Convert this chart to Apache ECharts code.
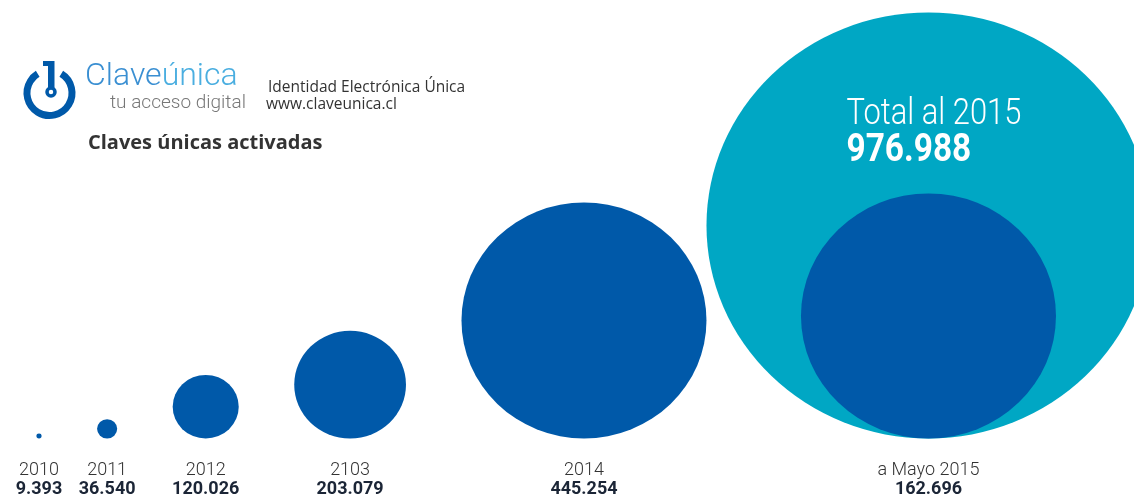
<!DOCTYPE html>
<html>
<head>
<meta charset="utf-8">
<script src="https://cdn.jsdelivr.net/npm/echarts@6/dist/echarts.min.js"></script>
<style>
  html, body { margin: 0; padding: 0; background: #fff; }
  #chart { width: 1134px; height: 497px; }
</style>
</head>
<body>
<div id="chart"></div>
<script>
// datos
const years = ["2010", "2011", "2012", "2103", "2014"];
const activadas = [9393, 36540, 120026, 203079, 445254];
const mayoLabel = "a Mayo 2015";
const mayoValue = 162696;
const totalLabel = "Total al 2015";
const totalValue = 976988;

// escala de las burbujas (diametro por clave)
const W_PER = 245 / 445254;
const H_PER = 236 / 445254;
const BASE = 438.5;
const START_X = 39;
const GAP = 55.5;
const TOTAL_SIZE = [444, 426];
const MAYO_SIZE = [255, 245];

const DARK = "#0059a9";
const TEAL = "#00a7c4";

function fmt(v) {
  return String(v).replace(/\B(?=(\d{3})+(?!\d))/g, ".");
}

// posiciones de las burbujas, una al lado de la otra
let cx = START_X;
let prevW = 0;
const bubbles = activadas.map((v, i) => {
  const w = v * W_PER;
  const h = v * H_PER;
  if (i > 0) cx += prevW / 2 + GAP + w / 2;
  prevW = w;
  return { name: years[i], value: [cx, BASE - h / 2, v], symbolSize: [w, h] };
});
const cx2015 = cx + prevW / 2 + TOTAL_SIZE[0] / 2;

const labelRich = {
  y: { fontFamily: "Roboto", fontWeight: 300, fontSize: 18, color: "#333", lineHeight: 19 },
  v: { fontFamily: "Roboto", fontWeight: "bold", fontSize: 18, color: "#1b2536", lineHeight: 19 },
};

const chart = echarts.init(document.getElementById("chart"));

const headerGraphics = [
  // logo
  {
    type: "arc",
    shape: { cx: 49.5, cy: 93, r: 22.5, startAngle: -1.02, endAngle: 4.16 },
    style: { stroke: DARK, lineWidth: 7, fill: null, lineCap: "butt" },
  },
  { type: "rect", shape: { x: 48, y: 61, width: 6.5, height: 27 }, style: { fill: DARK } },
  { type: "rect", shape: { x: 43, y: 61, width: 8, height: 5 }, style: { fill: DARK } },
  {
    type: "circle",
    shape: { cx: 51, cy: 92, r: 4 },
    style: { fill: "#fff", stroke: DARK, lineWidth: 3.5 },
  },
  {
    type: "text",
    x: 85,
    y: 61,
    style: {
      text: "{a|Clave}{b|única}",
      rich: {
        a: { fontFamily: "Roboto", fontWeight: 300, fontSize: 32, fill: "#3a8fd2" },
        b: { fontFamily: "Roboto", fontWeight: 300, fontSize: 32, fill: "#4aaee0" },
      },
    },
  },
  {
    type: "text",
    x: 110,
    y: 94,
    style: { text: "tu acceso digital", fontFamily: "Roboto", fontWeight: 300, fontSize: 19, fill: "#777" },
  },
  {
    type: "text",
    x: 268,
    y: 80,
    style: { text: "Identidad Electrónica Única", fontFamily: "Open Sans", fontSize: 15.5, fill: "#333" },
  },
  {
    type: "text",
    x: 266,
    y: 97,
    style: { text: "www.claveunica.cl", fontFamily: "Open Sans", fontSize: 15.5, fill: "#333" },
  },
  {
    type: "text",
    x: 88,
    y: 133,
    style: {
      text: "Claves únicas activadas",
      fontFamily: "Open Sans",
      fontWeight: "bold",
      fontSize: 20,
      fill: "#333",
    },
  },
];

const option = {
  animation: false,
  grid: { left: 0, right: 0, top: 0, bottom: 0 },
  xAxis: { type: "value", min: 0, max: 1134, show: false },
  yAxis: { type: "value", min: 0, max: 497, inverse: true, show: false },
  graphic: headerGraphics,
  series: [
    {
      type: "scatter",
      silent: true,
      z: 1,
      itemStyle: { color: TEAL, opacity: 1 },
      data: [
        {
          name: totalLabel,
          value: [cx2015, BASE - TOTAL_SIZE[1] / 2, totalValue],
          symbolSize: TOTAL_SIZE,
        },
      ],
    },
    {
      type: "scatter",
      silent: true,
      z: 2,
      itemStyle: { color: DARK, opacity: 1 },
      data: bubbles.concat([
        {
          name: mayoLabel,
          value: [cx2015, BASE - MAYO_SIZE[1] / 2, mayoValue],
          symbolSize: MAYO_SIZE,
        },
      ]),
      label: {
        show: true,
        position: "bottom",
        distance: 22,
        formatter: (p) => "{y|" + p.name + "}\n{v|" + fmt(p.value[2]) + "}",
        rich: labelRich,
      },
    },
  ],
};

chart.setOption(option);

// texto del total dentro del circulo grande (letra angosta)
const totalPx = chart.convertToPixel({ seriesIndex: 0 }, [cx2015, BASE - TOTAL_SIZE[1] / 2]);
const tx = totalPx[0] - TOTAL_SIZE[0] / 2 + 140;
const ty = totalPx[1] - TOTAL_SIZE[1] / 2;
chart.setOption({
  graphic: headerGraphics.concat([
    {
      type: "text",
      x: tx,
      y: ty + 84,
      scaleX: 0.835,
      z: 10,
      style: { text: totalLabel, fontFamily: "Roboto", fontWeight: 300, fontSize: 37, fill: "#fff" },
    },
    {
      type: "text",
      x: tx,
      y: ty + 120,
      scaleX: 0.88,
      z: 10,
      style: { text: fmt(totalValue), fontFamily: "Roboto", fontWeight: "bold", fontSize: 38, fill: "#fff" },
    },
  ]),
});
</script>
</body>
</html>
